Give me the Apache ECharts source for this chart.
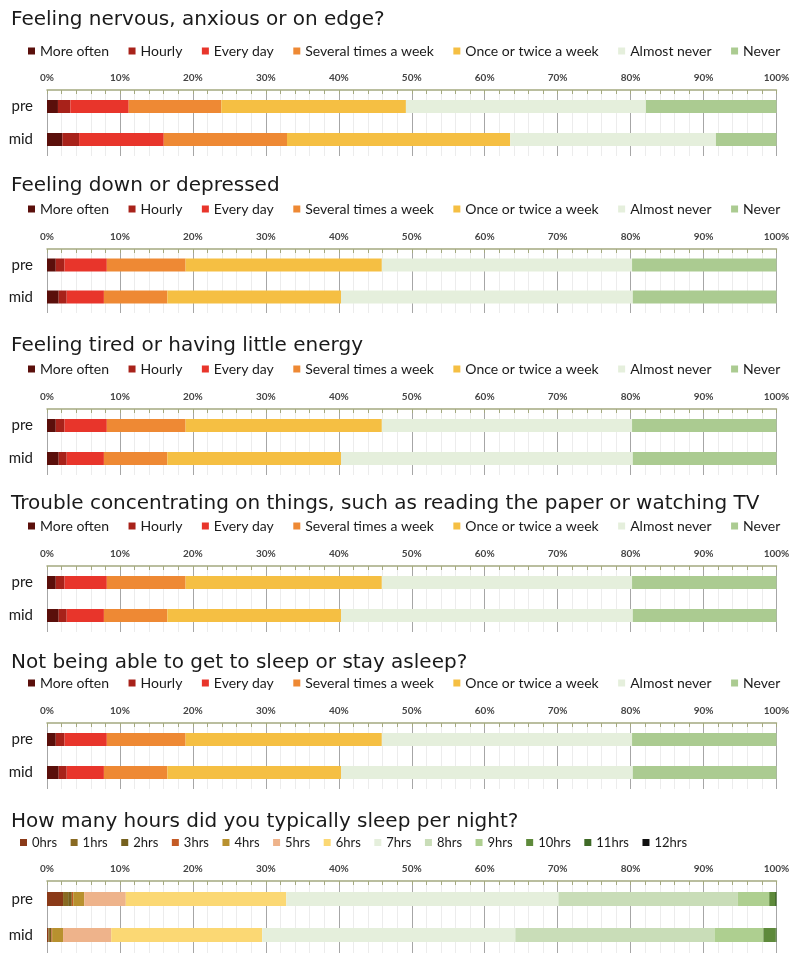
<!DOCTYPE html>
<html>
<head>
<meta charset="utf-8">
<script src="https://cdn.jsdelivr.net/npm/echarts@6/dist/echarts.min.js"></script>
<style>
html,body{margin:0;padding:0;background:#fff;}
#chart{width:800px;height:964px;}
</style>
</head>
<body>
<div id="chart"></div>
<script>
// ---- data ----
const groups = ['pre', 'mid'];
const freqCats = ['More often', 'Hourly', 'Every day', 'Several times a week', 'Once or twice a week', 'Almost never', 'Never'];
const sleepCats = ['0hrs', '1hrs', '2hrs', '3hrs', '4hrs', '5hrs', '6hrs', '7hrs', '8hrs', '9hrs', '10hrs', '11hrs', '12hrs'];
const titles = [
  'Feeling nervous, anxious or on edge?',
  'Feeling down or depressed',
  'Feeling tired or having little energy',
  'Trouble concentrating on things, such as reading the paper or watching TV',
  'Not being able to get to sleep or stay asleep?',
  'How many hours did you typically sleep per night?'
];
const nervousPre = [1.5, 1.7, 8.0, 12.7, 25.3, 32.9, 17.9];
const nervousMid = [2.1, 2.3, 11.6, 16.9, 30.6, 28.2, 8.3];
const downPre = [1.2, 1.2, 5.8, 10.8, 26.9, 34.3, 19.8];
const downMid = [1.6, 1.1, 5.1, 8.7, 23.8, 40.0, 19.7];
const tiredPre = [1.2, 1.2, 5.8, 10.8, 26.9, 34.3, 19.8];
const tiredMid = [1.6, 1.1, 5.1, 8.7, 23.8, 40.0, 19.7];
const concPre = [1.2, 1.2, 5.8, 10.8, 26.9, 34.3, 19.8];
const concMid = [1.6, 1.1, 5.1, 8.7, 23.8, 40.0, 19.7];
const asleepPre = [1.2, 1.2, 5.8, 10.8, 26.9, 34.3, 19.8];
const asleepMid = [1.6, 1.1, 5.1, 8.7, 23.8, 40.0, 19.7];
const hoursPre = [2.2, 0.7, 0.5, 0.2, 1.5, 5.7, 22.0, 37.3, 24.6, 4.3, 0.8, 0.2, 0.0];
const hoursMid = [0.2, 0.2, 0.2, 0.1, 1.5, 6.6, 20.7, 34.7, 27.3, 6.7, 1.7, 0.1, 0.0];

// ---- styles ----
const freqColors = ['#5a0f0b', '#a8221a', '#e8352b', '#ee8934', '#f5bf43', '#e5efdc', '#abcb91'];
const sleepColors = ['#8a3a18', '#896a22', '#75601d', '#c45b25', '#b8912f', '#eeb38b', '#fbd874', '#e5efdc', '#c9ddb8', '#aecf90', '#5e8a3b', '#3f6a27', '#111111'];
const FONT = 'Lato, "Open Sans", sans-serif';
const TITLE_FONT = '"DejaVu Sans", sans-serif';

const charts = [
  {pre: nervousPre, mid: nervousMid, cats: freqCats, colors: freqColors},
  {pre: downPre, mid: downMid, cats: freqCats, colors: freqColors},
  {pre: tiredPre, mid: tiredMid, cats: freqCats, colors: freqColors},
  {pre: concPre, mid: concMid, cats: freqCats, colors: freqColors},
  {pre: asleepPre, mid: asleepMid, cats: freqCats, colors: freqColors},
  {pre: hoursPre, mid: hoursMid, cats: sleepCats, colors: sleepColors}
];
const titleY = [18, 184, 344, 502, 661, 820];
const legendY = [52, 210, 370, 527, 684, 844];
const gridTop = [90, 249, 409, 566, 723, 881];
const gridH = [66, 64, 66, 66, 66, 72];

const option = {
  animation: false,
  backgroundColor: '#fff',
  title: [], legend: [], grid: [], xAxis: [], yAxis: [], series: []
};

charts.forEach((c, i) => {
  const sleep = i === 5;
  option.title.push({
    text: titles[i], left: 11, top: titleY[i] - 8, padding: 0,
    textStyle: {fontFamily: TITLE_FONT, fontSize: 20, fontWeight: 'normal', color: '#1a1a1a'}
  });
  option.legend.push({
    data: c.cats, left: sleep ? 20 : 28, top: legendY[i] - 8, padding: 0,
    itemWidth: 7, itemHeight: 7, icon: 'rect',
    itemGap: sleep ? 13.5 : 19.5,
    selectedMode: false,
    textStyle: {fontFamily: FONT, fontSize: sleep ? 13 : 14, color: '#1a1a1a'}
  });
  option.grid.push({left: 47, right: 23.5, top: gridTop[i], height: gridH[i]});
  option.xAxis.push({
    type: 'value', gridIndex: i, position: 'top', min: 0, max: 100, interval: 10,
    axisLine: {show: true, lineStyle: {color: '#a4a980', width: 1.5}},
    axisTick: {show: true, inside: true, length: 4, lineStyle: {color: '#a4a980'}},
    minorTick: {show: true, splitNumber: 5, length: 4, lineStyle: {color: '#a4a980'}},
    splitLine: {show: true, lineStyle: {color: '#a6a6a6', width: 1}},
    minorSplitLine: {show: true, lineStyle: {color: '#ececec', width: 1}},
    axisLabel: {formatter: '{value}%', margin: 7, fontFamily: 'Lato, sans-serif', fontSize: 10, fontWeight: 'bold', color: '#444'}
  });
  option.yAxis.push({
    type: 'category', gridIndex: i, data: groups, inverse: true,
    axisLine: {show: false}, axisTick: {show: false}, splitLine: {show: false},
    axisLabel: {margin: 14, fontFamily: FONT, fontSize: 15, color: '#1a1a1a'}
  });
  c.cats.forEach((name, k) => {
    option.series.push({
      type: 'bar', name: name, stack: 'g' + i, xAxisIndex: i, yAxisIndex: i,
      barWidth: sleep ? 14 : 13, data: [c.pre[k], c.mid[k]],
      itemStyle: {color: c.colors[k]},
      emphasis: {disabled: true}
    });
  });
});

const chart = echarts.init(document.getElementById('chart'), null, {renderer: 'canvas'});
chart.setOption(option);
</script>
</body>
</html>
